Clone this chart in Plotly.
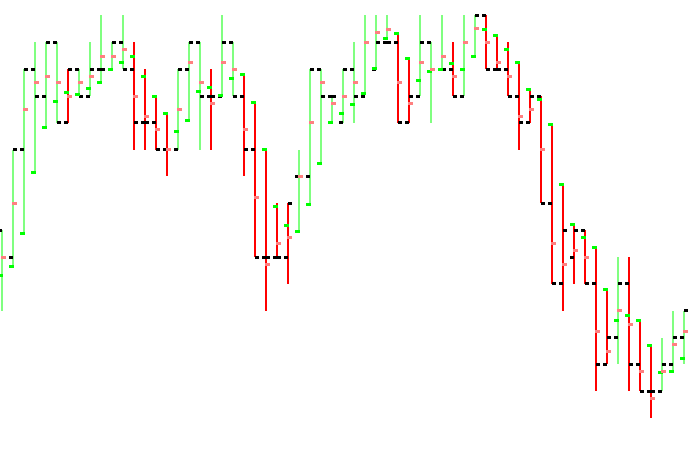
import plotly.graph_objects as go

# ---- data ----
bars = list(range(63))

high = [7, 10, 13, 14, 14, 14, 13, 13, 14, 15,
        14, 15, 14, 13, 12, 11.36, 13, 14, 14, 13,
        15, 14, 12.81, 11.77, 10, 8, 8, 10, 13, 13,
        12, 13, 14, 15, 15, 15, 14.34, 13.40, 15, 14,
        15, 14, 15, 15, 15, 14.26, 14, 13.26, 12.25, 12,
        10.95, 8.71, 7.22, 7, 6.36, 4.80, 6, 6, 3.64, 2.71,
        3, 4, 4]

low = [4, 5.66, 6.86, 9.16, 10.83, 11, 11, 12, 12, 12.51,
       13, 13, 10, 10, 10, 9.03, 10, 11.09, 10, 10,
       12, 12, 9.03, 6, 4, 6, 5, 6.96, 7.97, 9.49,
       11, 11, 11, 12.10, 13.03, 14.08, 11, 11, 12, 11,
       13, 12, 12, 13.48, 13, 13, 12, 10, 11, 8,
       5, 4, 5, 5, 1, 2, 2, 1, 1, 0,
       1, 1.75, 2]

open_ = [5.32, 5.66, 6.86, 9.16, 10.83, 11.80, 12.14, 12.06, 12.29, 12.51,
         13.0, 13.26, 13.48, 12.73, 12.0, 11.36, 10.69, 11.09, 12.18, 12.32,
         12.03, 12.66, 12.81, 11.77, 10, 7.89, 7.18, 6.96, 7.97, 9.49,
         11, 11.36, 11.69, 12.10, 13.03, 14.15, 14.34, 13.40, 12.58, 12.92,
         13.0, 13.22, 13.0, 13.48, 14.48, 14.26, 13.74, 13.26, 12.25, 11.88,
         10.95, 8.71, 7.22, 6.74, 6.36, 4.80, 3.64, 3.83, 3.64, 2.71,
         1.71, 1.75, 2.23]

close = [6, 8, 11.50, 12.51, 12.73, 12.51, 12.0, 12.51, 12.73, 13.48,
         13.48, 13.74, 12.0, 11.24, 10.76, 10, 11.50, 13.26, 12.51, 11.73,
         13.26, 13.0, 10.76, 8.23, 5.73, 6.51, 6.74, 9, 11, 12.51,
         11.73, 12.0, 12.51, 14.0, 14.37, 14.48, 12.51, 11.73, 13.26, 13.0,
         13.48, 12.73, 14.0, 14.5, 14.0, 13.26, 12.73, 11.24, 11.50, 10,
         6.51, 5.73, 6.25, 6.0, 3.24, 2.49, 4, 3.50, 1.75, 0.74,
         1.75, 2.75, 3.24]

level_in = [7, 6, 10, 13, 12, 14, 11, 13, 12, 13,
            13, 14, 13, 11, 11, 10, 10, 13, 14, 12,
            12, 14, 12, 10, 6, 6, 6, 9, 9, 13,
            12, 11, 13, 12, 13, 14, 14, 11, 12, 14,
            13, 13, 12, None, 15, 13, 13, 12, 11, 12,
            8, 5, 6, 7, 5, 2, 3, 5, 2, 1,
            1, 2, 3]

level_out = [6, 10, 13, 12, 14, 11, 13, 12, 13, 13,
             14, 13, 11, 11, 10, 10, 13, 14, 12, 12,
             14, 12, 10, 6, 6, 6, 8, 9, 13, 12,
             12, 13, 12, 14, 14, 14, 11, 12, 14, 13,
             13, 12, 14, 15, 13, 13, 12, 11, 12, 8,
             5, 7, 7, 5, 2, 3, 5, 2, 1, 1,
             2, 3, 4]

# ---- style ----
UP_LINE = "#80ff80"
DOWN_LINE = "#ff0000"
OPEN_TICK = "#00ff00"
CLOSE_TICK = "#ff8080"
LEVEL = "#000000"
PX = 1.0 / 11.0  # one pixel in x data units


def segments(x0s, x1s, ys):
    xs, yy = [], []
    for a, b, v in zip(x0s, x1s, ys):
        if v is None:
            continue
        xs += [a, b, None]
        yy += [v, v, None]
    return xs, yy


fig = go.Figure()

# high-low lines
for up, color in ((True, UP_LINE), (False, DOWN_LINE)):
    xs, yy = [], []
    for k, h, l, o, c in zip(bars, high, low, open_, close):
        if (c >= o) == up:
            xs += [k, k, None]
            yy += [l, h, None]
    fig.add_trace(go.Scatter(x=xs, y=yy, mode="lines",
                             line=dict(color=color, width=2),
                             hoverinfo="skip"))

# black level ticks (left = incoming, right = outgoing)
xl, yl = segments([k - 4 * PX for k in bars], bars, level_in)
xr, yr = segments(bars, [k + 4 * PX for k in bars], level_out)
fig.add_trace(go.Scatter(x=xl + xr, y=yl + yr, mode="lines",
                         line=dict(color=LEVEL, width=3), hoverinfo="skip"))

# open ticks
xo, yo = segments([k - 4 * PX for k in bars], [k + 1 * PX for k in bars], open_)
fig.add_trace(go.Scatter(x=xo, y=yo, mode="lines",
                         line=dict(color=OPEN_TICK, width=3), hoverinfo="skip"))

# close ticks
xc, yc = segments([k - 1 * PX for k in bars], [k + 4 * PX for k in bars], close)
fig.add_trace(go.Scatter(x=xc, y=yc, mode="lines",
                         line=dict(color=CLOSE_TICK, width=3), hoverinfo="skip"))

fig.update_layout(
    width=692, height=474,
    margin=dict(l=0, r=0, t=0, b=0),
    paper_bgcolor="white", plot_bgcolor="white",
    showlegend=False,
    xaxis=dict(visible=False, range=[-2 / 11, 690 / 11], fixedrange=True),
    yaxis=dict(visible=False, range=[-2.080, 15.576], fixedrange=True),
)

fig.write_html(
    "out.html", config={"displayModeBar": False},
    post_script=(
        "document.body.style.margin='0px';"
        "document.head.insertAdjacentHTML('beforeend',"
        "'<style>.js-line{shape-rendering:crispEdges}</style>');"
    ),
)
